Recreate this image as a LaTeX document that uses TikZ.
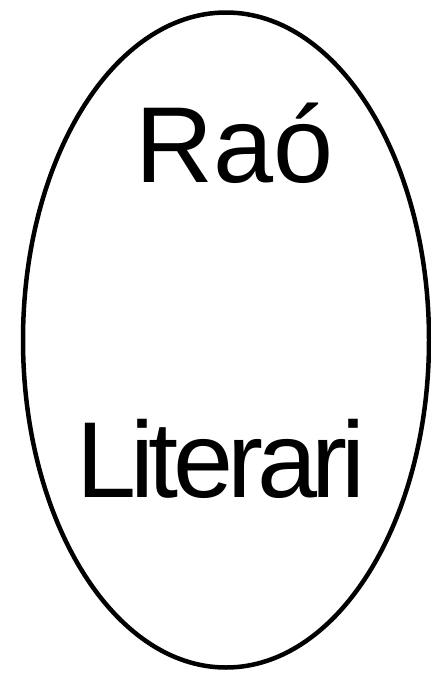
\documentclass[tikz,border=0pt]{standalone}
\usepackage{fontspec}
\setmainfont{Liberation Sans}
\newfontfamily\tightfont[LetterSpace=-5.5]{Liberation Sans}
\usepackage{tikz}
\usetikzlibrary{shapes.geometric}

\begin{document}
\begin{tikzpicture}[x=1pt, y=-1pt,
  cellnode/.style={ellipse, draw, line width=4.5pt, inner sep=0pt,
     minimum width=406pt, minimum height=655pt},
  wordnode/.style={anchor=base, inner sep=0pt, font=\fontsize{108}{108}\selectfont}]
  \useasboundingbox (0,0) rectangle (431,675);
  \node[cellnode] (cel) at (226,340) {};
  \node[wordnode] (rao) at (235,182) {Raó};
  \node[wordnode, font=\tightfont\fontsize{108}{108}\selectfont] (lit) at (221,497) {Literari};
\end{tikzpicture}
\end{document}
